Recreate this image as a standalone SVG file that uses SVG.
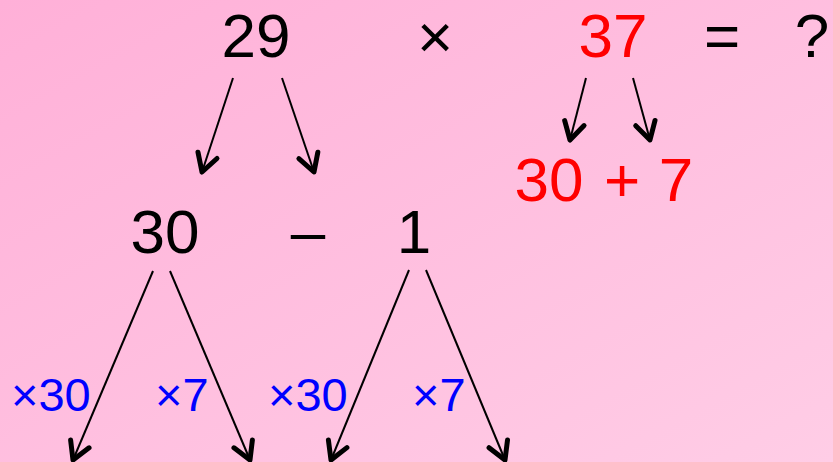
<svg xmlns="http://www.w3.org/2000/svg" width="833" height="462" viewBox="0 0 833 462">
<defs>
<linearGradient id="bg" x1="0" y1="0" x2="1" y2="1">
<stop offset="0" stop-color="#FFB0D8"/>
<stop offset="1" stop-color="#FFCDE6"/>
</linearGradient>
<marker id="ah" markerUnits="userSpaceOnUse" markerWidth="30" markerHeight="30" viewBox="-18 -12 22 24" refX="0" refY="0" orient="auto">
<path d="M-14,-8 L0,0 L-14,8" fill="none" stroke="#000" stroke-width="4" stroke-linejoin="round" stroke-linecap="round"/>
</marker>
</defs>
<style>
.t{font-family:"Liberation Sans",Arial,sans-serif;font-size:62px;text-anchor:middle}
.k{fill:#000}
.r{fill:#FF0000}
.b{font-family:"Liberation Sans",Arial,sans-serif;font-size:47px;fill:#0000FF}
.c line{stroke:#000;stroke-width:2;marker-end:url(#ah)}
</style>
<rect width="833" height="462" fill="url(#bg)"/>
<g id="n29"><text class="t k" x="256" y="57">29</text></g>
<g id="times"><text class="t k" x="435" y="58">×</text></g>
<g id="n37"><text class="t r" x="613" y="57">37</text></g>
<g id="eq"><text class="t k" x="722" y="57">=</text></g>
<g id="q"><text class="t k" x="812" y="57">?</text></g>
<g id="n30plus7">
<text class="t r" x="549" y="201">30</text>
<text class="t r" x="622" y="201">+</text>
<text class="t r" x="676" y="201">7</text>
</g>
<g id="n30"><text class="t k" x="165" y="253">30</text></g>
<g id="minus"><text class="t k" x="308" y="253">–</text></g>
<g id="n1"><text class="t k" x="414" y="253">1</text></g>
<g id="labels">
<text class="b" x="11" y="411">×30</text>
<text class="b" x="155" y="411">×7</text>
<text class="b" x="268" y="411">×30</text>
<text class="b" x="412" y="411">×7</text>
</g>
<g class="c" id="connectors">
<line x1="233" y1="78" x2="202" y2="172"/>
<line x1="282" y1="78" x2="314" y2="172"/>
<line x1="586" y1="78" x2="570" y2="140"/>
<line x1="633" y1="78" x2="650" y2="140"/>
<line x1="153" y1="271" x2="73" y2="460"/>
<line x1="170" y1="271" x2="250" y2="460"/>
<line x1="409" y1="270" x2="331" y2="460"/>
<line x1="426" y1="270" x2="505" y2="460"/>
</g>
</svg>
